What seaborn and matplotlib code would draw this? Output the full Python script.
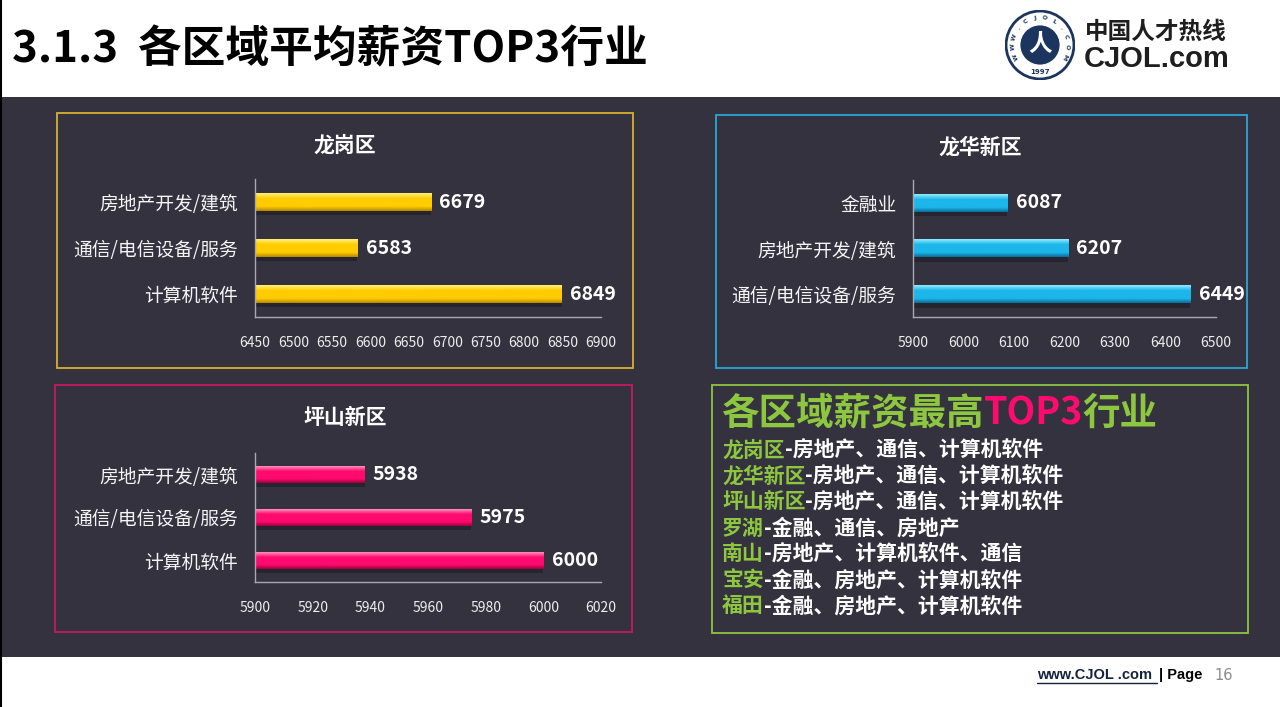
import matplotlib.pyplot as plt
import matplotlib.patches as mpatches
import matplotlib.lines as mlines
from matplotlib.colors import to_rgb
import numpy as np
import seaborn as sns

W, H = 1280, 707

# chart data
longgang_cats = ["房地产开发/建筑", "通信/电信设备/服务", "计算机软件"]
longgang_vals = [6679, 6583, 6849]
longgang_ticks = [6450, 6500, 6550, 6600, 6650, 6700, 6750, 6800, 6850, 6900]

longhua_cats = ["金融业", "房地产开发/建筑", "通信/电信设备/服务"]
longhua_vals = [6087, 6207, 6449]
longhua_ticks = [5900, 6000, 6100, 6200, 6300, 6400, 6500]

pingshan_cats = ["房地产开发/建筑", "通信/电信设备/服务", "计算机软件"]
pingshan_vals = [5938, 5975, 6000]
pingshan_ticks = [5900, 5920, 5940, 5960, 5980, 6000, 6020]

summary_districts = ["龙岗区", "龙华新区", "坪山新区", "罗湖", "南山", "宝安", "福田"]
summary_industries = [
    "-房地产、通信、计算机软件",
    "-房地产、通信、计算机软件",
    "-房地产、通信、计算机软件",
    "-金融、通信、房地产",
    "-房地产、计算机软件、通信",
    "-金融、房地产、计算机软件",
    "-金融、房地产、计算机软件",
]

BG = "#34323F"
GREEN = "#8DC63F"
PINK = "#FF0A6E"


def px(x, y):
    """pixel position (from top-left) to figure fraction"""
    return x / W, 1 - y / H


def box(fig, x0, y0, x1, y1, color):
    fig.add_artist(mpatches.Rectangle(px(x0, y1), (x1 - x0) / W, (y1 - y0) / H,
                                      transform=fig.transFigure, fill=False,
                                      ec=color, lw=1.3, zorder=2))


def shade_bars(ax, light, base, dark):
    # vertical gradient on top of each bar to mimic the 3d look
    stops = [0.0, 0.3, 0.75, 1.0]
    cols = np.array([to_rgb(light), to_rgb(base), to_rgb(base), to_rgb(dark)])
    t = np.linspace(0, 1, 40)
    grad = np.stack([np.interp(t, stops, cols[:, i]) for i in range(3)], axis=1)
    grad = grad[:, None, :]
    for p in ax.patches:
        x0, y0, w, h = p.get_x(), p.get_y(), p.get_width(), p.get_height()
        # soft shadow under the bar
        ax.add_patch(mpatches.Rectangle((x0, y0 + h * 0.25), w, h, fc="black",
                                        alpha=0.25, ec="none",
                                        zorder=p.get_zorder() - 0.1))
        ax.imshow(grad, extent=(x0, x0 + w, y0 + h, y0), origin="upper",
                  aspect="auto", zorder=p.get_zorder() + 0.1)


def plot_panel(ax, cats, vals, ticks, colors):
    light, base, dark = colors
    sns.barplot(x=vals, y=cats, orient="h", color=base, saturation=1,
                width=0.39, linewidth=0, ax=ax)
    ax.bar_label(ax.containers[0], labels=[str(v) for v in vals], padding=6,
                 color="white", fontsize=14, fontweight="bold")
    shade_bars(ax, light, base, dark)

    ax.set_xlim(ticks[0], ticks[-1])
    ax.set_ylim(2.5, -0.5)
    ax.set_xticks(ticks)
    ax.set_xticklabels([str(t) for t in ticks])
    ax.set_yticks([0, 1, 2])
    ax.set_yticklabels(cats)
    ax.set_yticks([-0.5, 0.5, 1.5, 2.5], minor=True)
    ax.set_xlabel("")
    ax.set_ylabel("")
    ax.set_facecolor("none")
    ax.grid(False)

    for side in ["top", "right"]:
        ax.spines[side].set_visible(False)
    for side in ["left", "bottom"]:
        ax.spines[side].set_visible(True)
        ax.spines[side].set_color("#A8A8B0")
        ax.spines[side].set_linewidth(1)

    ax.tick_params(axis="x", direction="out", length=5, width=1, color="#A8A8B0",
                   labelcolor="#EDEDED", labelsize=10, pad=9)
    ax.tick_params(axis="y", which="major", length=0, labelcolor="#F5F5F5",
                   labelsize=13.5, pad=12)
    ax.tick_params(axis="y", which="minor", direction="out", length=5, width=1,
                   color="#A8A8B0")


def text_runs(fig, x, y, runs, size, renderer):
    # draw coloured pieces of text one after another on one line
    xpos = x
    for txt, color in runs:
        t = fig.text(xpos / W, 1 - y / H, txt, color=color, fontsize=size,
                     fontweight="bold", ha="left", va="center")
        bb = t.get_window_extent(renderer)
        xpos = bb.x1


sns.set_style("white")
plt.rcParams["font.family"] = ["Noto Sans CJK SC", "DejaVu Sans"]

fig = plt.figure(figsize=(12.8, 7.07), dpi=100, facecolor="white")

# dark slide body
fig.add_artist(mpatches.Rectangle((0, 1 - 657 / H), 1, 560 / H, fc=BG, ec="none",
                                  transform=fig.transFigure, zorder=-1))
fig.add_artist(mlines.Line2D([0.5 / W, 0.5 / W], [0, 1], color="black", lw=1.5,
                             transform=fig.transFigure, zorder=-0.5))

# header
fig.text(*px(12, 49), "3.1.3  各区域平均薪资TOP3行业", fontsize=31.5, fontweight="bold",
         color="black", ha="left", va="center")

# logo
lax = fig.add_axes([1005 / W, 1 - 80 / H, 70 / W, 70 / H])
lax.set_xlim(-1, 1)
lax.set_ylim(-1, 1)
lax.set_aspect("equal")
lax.axis("off")
navy = "#1B355E"
lax.add_patch(mpatches.Circle((0, 0), 0.97, fc="white", ec=navy, lw=2))
lax.add_patch(mpatches.Circle((0, 0), 0.56, fc=navy, ec="none"))
lax.text(0, 0.02, "人", color="white", fontsize=17, fontweight="bold",
         ha="center", va="center")
for i, ch in enumerate("WWW.CJOL.COM"):
    a = np.deg2rad(205 - i * 230 / 11)
    lax.text(0.77 * np.cos(a), 0.77 * np.sin(a), ch, fontsize=4.5, color=navy,
             ha="center", va="center", rotation=np.rad2deg(a) - 90,
             family="DejaVu Sans", fontweight="bold")
lax.text(0, -0.78, "1997", fontsize=5, color=navy, ha="center", va="center",
         family="DejaVu Sans", fontweight="bold")
fig.text(*px(1085, 32), "中国人才热线", fontsize=17, fontweight="bold",
         color="#1E1E1E", ha="left", va="center")
fig.text(*px(1084, 59), "CJOL.com", fontsize=21, fontweight="bold",
         color="#1E1E1E", ha="left", va="center", family="Liberation Sans")

# panel frames
box(fig, 57, 113, 633, 368, "#D8B030")
box(fig, 716, 115, 1247, 368, "#2AA6D6")
box(fig, 55, 385, 632, 632, "#C8195E")
box(fig, 712, 385, 1248, 633, GREEN)

# bar panels
ax1 = fig.add_axes([255 / W, 1 - 317 / H, 346 / W, 138 / H])
plot_panel(ax1, longgang_cats, longgang_vals, longgang_ticks,
           ("#FFF07A", "#FFCC00", "#B88A00"))
ax2 = fig.add_axes([913 / W, 1 - 317 / H, 303 / W, 137 / H])
plot_panel(ax2, longhua_cats, longhua_vals, longhua_ticks,
           ("#8EEBFF", "#1CB6EA", "#0A6E98"))
ax3 = fig.add_axes([255 / W, 1 - 582 / H, 346 / W, 129 / H])
plot_panel(ax3, pingshan_cats, pingshan_vals, pingshan_ticks,
           ("#FF8CBC", PINK, "#A0003E"))

fig.text(*px(345, 145), "龙岗区", fontsize=15, fontweight="bold", color="white",
         ha="center", va="center")
fig.text(*px(980, 147), "龙华新区", fontsize=15, fontweight="bold", color="white",
         ha="center", va="center")
fig.text(*px(345, 418), "坪山新区", fontsize=15, fontweight="bold", color="white",
         ha="center", va="center")

# summary box
renderer = fig.canvas.get_renderer()
text_runs(fig, 721, 413, [("各区域薪资最高", GREEN), ("TOP3", PINK), ("行业", GREEN)],
          27, renderer)
for i, (d, ind) in enumerate(zip(summary_districts, summary_industries)):
    text_runs(fig, 722, 450 + i * 26, [(d, GREEN), (ind, "white")], 15, renderer)

# footer
fig.text(*px(1037, 675), "www.CJOL .com", fontsize=10.5, fontweight="bold",
         color="#13233F", ha="left", va="center", family="Liberation Sans")
fig.add_artist(mlines.Line2D([1037 / W, 1157 / W], [1 - 683 / H, 1 - 683 / H],
                             color="#13233F", lw=1, transform=fig.transFigure))
fig.text(*px(1159, 675), "| Page", fontsize=10.5, fontweight="bold",
         color="black", ha="left", va="center", family="Liberation Sans")
fig.text(*px(1214, 675), "16", fontsize=10.5, color="#8C8C8C",
         ha="left", va="center", family="DejaVu Sans")

fig.savefig("out.png", dpi=100, facecolor="white")
